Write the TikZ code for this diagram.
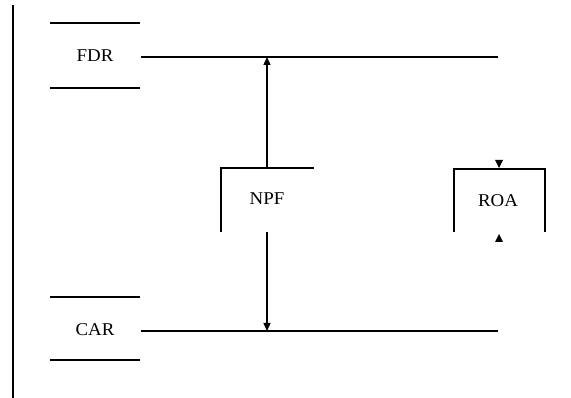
\documentclass[tikz,border=0pt]{standalone}
\usepackage{fontspec}
\setmainfont{Liberation Serif}
\usetikzlibrary{arrows.meta}
\begin{document}
\begin{tikzpicture}[x=1pt,y=-1pt,
  wire/.style={line width=1.3pt,black},
  lbl/.style={inner sep=0pt,font=\fontsize{18}{21}\selectfont,xscale=1.05},
  link/.style={wire,-{Triangle[length=8pt,width=7pt]}}]
\useasboundingbox (0,0) rectangle (571,398);
% frame edge on the left
\draw[line width=1.6pt] (13,5) -- (13,398);
% FDR store
\draw[wire] (50,23) -- (140,23);
\draw[wire] (50,88) -- (140,88);
\node[lbl] (fdr) at (95,56) {FDR};
\coordinate (fdrA) at (141,57);
\coordinate (fdrB) at (498,57);
\draw[wire] (fdrA) -- (fdrB);
% CAR store
\draw[wire] (50,297) -- (140,297);
\draw[wire] (50,360) -- (140,360);
\node[lbl] (car) at (95,330) {CAR};
\coordinate (carA) at (141,331);
\coordinate (carB) at (498,331);
\draw[wire] (carA) -- (carB);
% NPF process
\draw[wire] (221,232) -- (221,168) -- (314,168);
\node[lbl] (npf) at (267,199) {NPF};
\coordinate (npfTop) at (267,168);
\coordinate (npfBot) at (267,232);
\coordinate (fdrHit) at (267,57);
\coordinate (carHit) at (267,331);
\draw[link] (npfTop) -- (fdrHit);
\draw[link] (npfBot) -- (carHit);
% ROA process
\draw[wire] (454,232) -- (454,169) -- (545,169) -- (545,232);
\node[lbl] (roa) at (498,201) {ROA};
\fill (495,160) -- (503,160) -- (499,168) -- cycle;
\fill (495,242) -- (503,242) -- (499,234) -- cycle;
\end{tikzpicture}
\end{document}
